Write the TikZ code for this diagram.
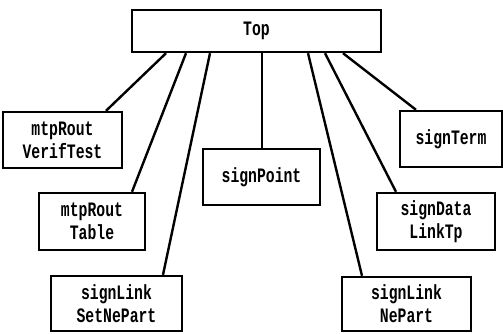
\documentclass[tikz,border=0pt]{standalone}
\usepackage{fontspec}
\newfontfamily\boxfont[FakeStretch=0.72]{Liberation Mono}
\tikzset{
  box/.style={draw,line width=2.4pt,rectangle,align=center,inner sep=0pt,
    font=\boxfont\bfseries\fontsize{20.5}{23}\selectfont}
}

\begin{document}
\begin{tikzpicture}[x=1pt,y=-1pt]
            \useasboundingbox (0,0) rectangle (503,333);

            % Boxes
            \node[box,minimum width=249,minimum height=42] (top) at (256.5,31) {Top};
            \node[box,minimum width=119,minimum height=56] (vt) at (62.5,140) {mtpRout\\VerifTest};
            \node[box,minimum width=106,minimum height=57] (tab) at (92,221.5) {mtpRout\\Table};
            \node[box,minimum width=131,minimum height=55] (snp) at (116.5,303.5) {signLink\\SetNePart};
            \node[box,minimum width=117,minimum height=56] (pt) at (261.5,177) {signPoint};
            \node[box,minimum width=102,minimum height=56] (term) at (451,139) {signTerm};
            \node[box,minimum width=118,minimum height=57] (dlt) at (436,221.5) {signData\\LinkTp};
            \node[box,minimum width=129,minimum height=54] (np) at (406.5,304) {signLink\\NePart};

            % Lines
            \foreach \n/\s/\e in {vt/-90.5/43.5,tab/-70.5/40,snp/-46.5/46.5,pt/5.5/0.5,
                np/51.5/-44.5,dlt/68.5/-40,term/86.5/-35}{
            \draw[line width=2.4pt] ([xshift=\s pt]top.south) -- ([xshift=\e pt]\n.north);
            }
        \end{tikzpicture}
\end{document}
